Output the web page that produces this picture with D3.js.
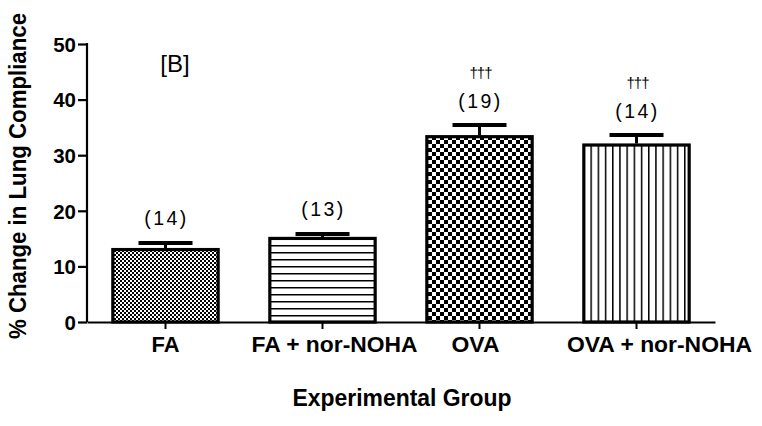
<!DOCTYPE html>
<html><head><meta charset="utf-8">
<script src="https://cdn.jsdelivr.net/npm/d3@7"></script>
<style>body{margin:0;background:#fff}svg{display:block}text{font-family:"Liberation Sans",Arial,sans-serif;fill:#000}</style>
</head><body>
<script>
const categories = ["FA", "FA + nor-NOHA", "OVA", "OVA + nor-NOHA"];
const means = [13.3, 15.3, 33.6, 32.1];
const sems = [1.2, 0.8, 2.1, 1.8];
const nLabels = ["(14)", "(13)", "(19)", "(14)"];
const sigLabels = ["", "", "†††", "†††"];
const patterns = ["fineCheck", "hLines", "coarseCheck", "vLines"];
const yTicks = [0, 10, 20, 30, 40, 50];

// label layout (widths and horizontal shifts of category labels)
const catWidths = [28, 166, 48, 185];
const catShift = [0, 12, -4, 23];

const W = 762, H = 426;
const svg = d3.select("body").append("svg").attr("width", W).attr("height", H);
const defs = svg.append("defs");

const p1 = defs.append("pattern").attr("id","fineCheck").attr("patternUnits","userSpaceOnUse").attr("width",4).attr("height",4);
p1.append("rect").attr("width",4).attr("height",4).attr("fill","#fff");
p1.append("rect").attr("width",2).attr("height",2).attr("fill","#000");
p1.append("rect").attr("x",2).attr("y",2).attr("width",2).attr("height",2).attr("fill","#000");

const p3 = defs.append("pattern").attr("id","coarseCheck").attr("patternUnits","userSpaceOnUse").attr("width",8).attr("height",8);
p3.append("rect").attr("width",8).attr("height",8).attr("fill","#fff");
p3.append("rect").attr("width",4).attr("height",4).attr("fill","#000");
p3.append("rect").attr("x",4).attr("y",4).attr("width",4).attr("height",4).attr("fill","#000");

const p2 = defs.append("pattern").attr("id","hLines").attr("patternUnits","userSpaceOnUse").attr("width",8).attr("height",7);
p2.append("rect").attr("width",8).attr("height",7).attr("fill","#fff");
p2.append("rect").attr("y",0).attr("width",8).attr("height",1.5).attr("fill","#000");

const p4 = defs.append("pattern").attr("id","vLines").attr("patternUnits","userSpaceOnUse").attr("width",7.2).attr("height",8);
p4.append("rect").attr("width",7.2).attr("height",8).attr("fill","#fff");
p4.append("rect").attr("x",0).attr("width",1.5).attr("height",8).attr("fill","#000");

const x = d3.scaleBand().domain(categories).range([87, 715]).paddingInner(0.31).paddingOuter(0.155);
const y = d3.scaleLinear().domain([0, 50]).range([322, 44]);

const data = categories.map((c,i)=>({c, m:means[i], e:sems[i], n:nLabels[i], s:sigLabels[i], p:patterns[i], w:catWidths[i], dx:catShift[i]}));
const cx = d => x(d.c) + x.bandwidth()/2;

svg.selectAll("rect.bar").data(data).enter().append("rect").attr("class","bar")
  .attr("x", d=>x(d.c)+1.5).attr("width", d=>x.bandwidth()-3)
  .attr("y", d=>y(d.m)+1.5).attr("height", d=>y(0)-y(d.m)-1.5)
  .attr("fill", d=>`url(#${d.p})`).attr("stroke","#000").attr("stroke-width",3.2);

const eb = svg.selectAll("g.eb").data(data).enter().append("g");
eb.append("line").attr("x1",cx).attr("x2",cx)
  .attr("y1",d=>y(d.m)).attr("y2",d=>y(d.m+d.e)).attr("stroke","#000").attr("stroke-width",3);
eb.append("line").attr("x1",d=>cx(d)-27).attr("x2",d=>cx(d)+27)
  .attr("y1",d=>y(d.m+d.e)+1.5).attr("y2",d=>y(d.m+d.e)+1.5).attr("stroke","#000").attr("stroke-width",4);

svg.selectAll("text.n").data(data).enter().append("text").attr("class","n")
  .attr("x",d=>cx(d)+1).attr("y",d=>y(d.m+d.e)-16)
  .attr("text-anchor","middle").style("font-size","19.5px").style("letter-spacing","2.5px")
  .text(d=>d.n);
svg.selectAll("text.s").data(data.filter(d=>d.s)).enter().append("text").attr("class","s")
  .attr("x",d=>cx(d)+1).attr("y",d=>y(d.m+d.e)-46)
  .attr("text-anchor","middle").style("font-size","15px").style("letter-spacing","-1px")
  .text(d=>d.s);

const yAxis = d3.axisLeft(y).tickValues(yTicks).tickSize(9).tickPadding(2);
const gy = svg.append("g").attr("transform","translate(87,0)").call(yAxis);
gy.select(".domain").attr("stroke-width",2.2).attr("d","M0,322V43");
gy.selectAll(".tick line").attr("stroke-width",2.2);
gy.selectAll(".tick text").style("font-size","20.5px").style("font-weight","bold").attr("dy","0.36em");

const xAxis = d3.axisBottom(x).tickSize(7).tickSizeOuter(0).tickFormat(()=>"");
const gx = svg.append("g").attr("transform","translate(0,322)").call(xAxis);
gx.select(".domain").attr("stroke-width",2.2);
gx.selectAll(".tick line").attr("stroke-width",2);

svg.selectAll("text.cat").data(data).enter().append("text").attr("class","cat")
  .attr("x",d=>cx(d)+d.dx).attr("y",352).attr("text-anchor","middle")
  .style("font-size","22px").style("font-weight","bold")
  .attr("textLength",d=>d.w).attr("lengthAdjust","spacingAndGlyphs").text(d=>d.c);

svg.append("text").attr("x",402).attr("y",406).attr("text-anchor","middle")
  .style("font-size","24px").style("font-weight","bold")
  .attr("textLength",219).attr("lengthAdjust","spacingAndGlyphs").text("Experimental Group");

svg.append("text").attr("transform","translate(26,176) rotate(-90)").attr("text-anchor","middle")
  .style("font-size","23px").style("font-weight","bold")
  .attr("textLength",326).attr("lengthAdjust","spacingAndGlyphs").text("% Change in Lung Compliance");

svg.append("text").attr("x",175).attr("y",72).attr("text-anchor","middle").style("font-size","24px").text("[B]");
</script>
</body></html>
